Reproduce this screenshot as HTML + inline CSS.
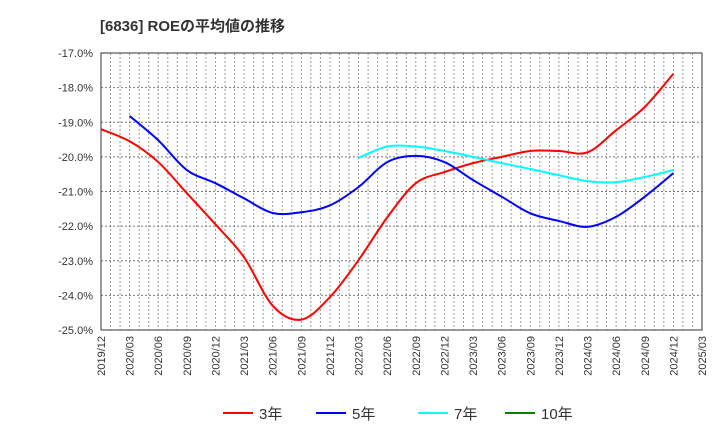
<!DOCTYPE html>
<html><head><meta charset="utf-8"><style>
body{margin:0;background:#fff;}
svg{font-family:"Liberation Sans","Noto Sans CJK JP",sans-serif;}
</style></head><body>
<svg id="c" width="720" height="440" xmlns="http://www.w3.org/2000/svg">
<text x="100" y="31" font-size="15" font-weight="bold" fill="#333">[6836]  ROEの平均値の推移</text>
<g id="grid"></g><g id="axes"></g><g id="series"></g><g id="legend"></g>
</svg>
<script>
const xLabels=["2019/12","2020/03","2020/06","2020/09","2020/12","2021/03","2021/06","2021/09","2021/12","2022/03","2022/06","2022/09","2022/12","2023/03","2023/06","2023/09","2023/12","2024/03","2024/06","2024/09","2024/12","2025/03"];
const yTicks=[-17,-18,-19,-20,-21,-22,-23,-24,-25];
const s3=[-19.2,-19.55,-20.15,-21.05,-21.95,-22.9,-24.3,-24.7,-24.05,-22.98,-21.75,-20.76,-20.44,-20.18,-20.0,-19.83,-19.83,-19.87,-19.23,-18.56,-17.6];
const s5=[null,-18.82,-19.52,-20.38,-20.76,-21.2,-21.62,-21.6,-21.4,-20.87,-20.15,-19.97,-20.15,-20.67,-21.15,-21.63,-21.85,-22.02,-21.73,-21.15,-20.47];
const s7=[null,null,null,null,null,null,null,null,null,-20.03,-19.7,-19.7,-19.83,-20.0,-20.18,-20.35,-20.53,-20.7,-20.73,-20.58,-20.38];
const s10=[];
const names=["3年","5年","7年","10年"];
const colors=["#ff0000","#0000ff","#00ffff","#008000"];
const L=101,R=702,T=53,B=330,NS="http://www.w3.org/2000/svg";
const nMonths=63;
const xq=i=>L+(R-L)*(i*3)/nMonths;
const xm=m=>L+(R-L)*m/nMonths;
const y=v=>T+(B-T)*(-17-v)/8;
function el(t,a,p){const e=document.createElementNS(NS,t);for(const k in a)e.setAttribute(k,a[k]);p.appendChild(e);return e;}
const g=document.getElementById('grid');
for(let m=1;m<nMonths;m++){const l=el('line',{x1:xm(m),x2:xm(m),y1:T,y2:B,stroke:'#999','stroke-dasharray':'2,2','stroke-width':1},g);

}
yTicks.forEach(v=>{const l=el('line',{x1:L,x2:R,y1:y(v),y2:y(v),stroke:'#777','stroke-dasharray':'2,2','stroke-width':1},g);

});
const ax=document.getElementById('axes');
const fr=el('rect',{x:L,y:T,width:R-L,height:B-T,fill:'none',stroke:'#333','stroke-width':1},ax);


yTicks.forEach(v=>{const t=el('text',{x:L-8,y:y(v)+4,'text-anchor':'end','font-size':11,fill:'#333'},ax);t.textContent=v.toFixed(1)+'%';

});
xLabels.forEach((s,i)=>{const x=xq(i),t=el('text',{x:x+4,y:B+6,'text-anchor':'end','font-size':11,fill:'#333',transform:`rotate(-90 ${x+4} ${B+6})`},ax);t.textContent=s;

});
function path(vals){const pts=[];vals.forEach((v,i)=>{if(v!=null)pts.push([xq(i),y(v)]);});if(pts.length<2)return '';
let d=`M${pts[0][0]},${pts[0][1]}`;for(let i=0;i<pts.length-1;i++){const p0=pts[i-1]||pts[i],p1=pts[i],p2=pts[i+1],p3=pts[i+2]||p2;
d+=` C${p1[0]+(p2[0]-p0[0])/6},${p1[1]+(p2[1]-p0[1])/6} ${p2[0]-(p3[0]-p1[0])/6},${p2[1]-(p3[1]-p1[1])/6} ${p2[0]},${p2[1]}`;}return d;}
const sg=document.getElementById('series');
[s3,s5,s7,s10].forEach((s,k)=>{const d=path(s);if(!d)return;const p=el('path',{d:d,fill:'none',stroke:colors[k],'stroke-width':2},sg);

});
const lg=document.getElementById('legend');
const lx=[223,316,418,505];
names.forEach((n,k)=>{const gg=el('g',{},lg);


el('line',{x1:lx[k],x2:lx[k]+30,y1:413,y2:413,stroke:colors[k],'stroke-width':2},gg);
const t=el('text',{x:lx[k]+36,y:419,'font-size':15,fill:'#333'},gg);t.textContent=n;});
</script>
</body></html>
